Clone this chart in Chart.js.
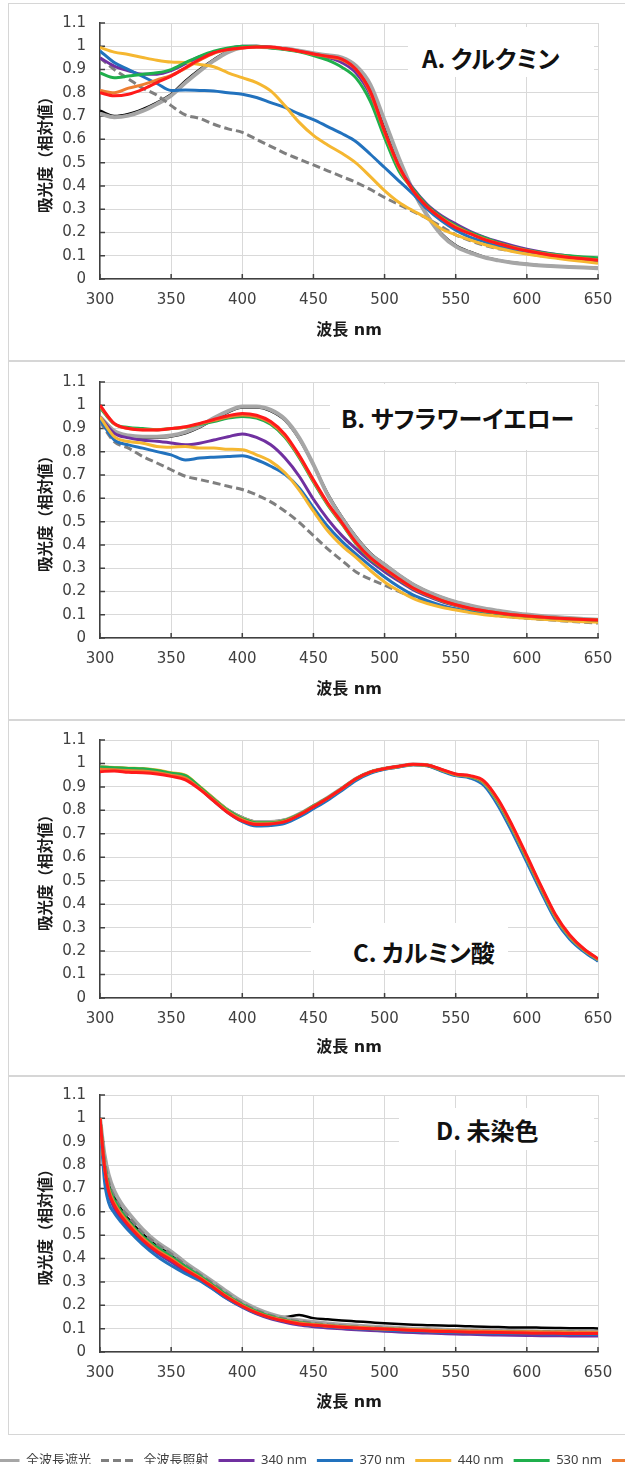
<!DOCTYPE html>
<html lang="ja">
<head>
<meta charset="utf-8">
<title>吸光スペクトル</title>
<script src="https://cdn.jsdelivr.net/npm/chart.js@4.4.1/dist/chart.umd.min.js"></script>
<style>
  html, body { margin: 0; padding: 0; background: #fff; }
  body { width: 625px; height: 1471px; position: relative; overflow: hidden; }
  .frame { position: absolute; left: 8px; width: 700px; border: 1px solid #d6d6d6; box-sizing: border-box; }
  canvas { position: absolute; left: 0; }
  .tbox { position: absolute; background: #fff; }
  .ttext { position: absolute; line-height: 30px; white-space: nowrap; color: #111;
           font-family: "Noto Sans CJK JP", sans-serif; font-weight: bold; font-size: 24px;
           font-feature-settings: "palt"; }
</style>
</head>
<body>
<div class="frame" style="top:3px;height:358px"></div>
<div class="frame" style="top:361px;height:359px"></div>
<div class="frame" style="top:720px;height:356px"></div>
<div class="frame" style="top:1076px;height:359px"></div>

<canvas id="cA" width="625" height="360" style="top:0px"></canvas>
<canvas id="cB" width="625" height="360" style="top:359px"></canvas>
<canvas id="cC" width="625" height="360" style="top:717px"></canvas>
<canvas id="cD" width="625" height="360" style="top:1072px"></canvas>
<canvas id="legend" width="1100" height="40"></canvas>

<div class="tbox" style="left:408px;top:27px;width:186px;height:50px"></div>
<div class="ttext" style="left:422px;top:43px">A. クルクミン</div>
<div class="tbox" style="left:330px;top:384px;width:265px;height:66px"></div>
<div class="ttext" style="left:341px;top:403px">B. サフラワーイエロー</div>
<div class="tbox" style="left:311px;top:923px;width:197px;height:47px"></div>
<div class="ttext" style="left:353px;top:937px">C. カルミン酸</div>
<div class="tbox" style="left:399px;top:1108px;width:195px;height:42px"></div>
<div class="ttext" style="left:436px;top:1115px">D. 未染色</div>

<script>
// wavelengths (nm)
const wavelengths = [300,310,320,330,340,350,360,370,380,390,400,410,420,430,440,450,460,470,480,490,500,510,520,530,540,550,560,570,580,590,600,610,620,630,640,650];
const wavelengthsD = [300,303,306,310,315,320,330,340,350,360,370,380,390,400,410,420,430,440,450,460,470,480,490,500,510,520,530,540,550,560,570,580,590,600,610,620,630,640,650];

const seriesNames = ['未照射', '全波長遮光', '全波長照射', '340 nm', '370 nm', '440 nm', '530 nm', '590 nm', '660 nm'];

// A. クルクミン
const aBlack  = [0.723,0.700,0.709,0.730,0.758,0.794,0.851,0.900,0.943,0.979,0.997,1.000,0.997,0.990,0.980,0.968,0.958,0.948,0.905,0.820,0.665,0.510,0.375,0.275,0.195,0.145,0.117,0.095,0.081,0.071,0.064,0.058,0.055,0.052,0.050,0.047];
const aGray   = [0.710,0.695,0.702,0.722,0.752,0.788,0.843,0.893,0.938,0.975,0.995,0.998,0.995,0.990,0.981,0.970,0.961,0.951,0.915,0.835,0.680,0.520,0.380,0.272,0.190,0.140,0.113,0.093,0.080,0.070,0.063,0.058,0.055,0.052,0.049,0.046];
const aDashed = [0.950,0.900,0.860,0.820,0.790,0.745,0.705,0.690,0.665,0.645,0.630,0.600,0.570,0.540,0.515,0.490,0.465,0.440,0.415,0.385,0.350,0.320,0.290,0.260,0.225,0.190,0.165,0.145,0.130,0.120,0.110,0.100,0.092,0.085,0.080,0.074];
const aPurple = [0.950,0.915,0.895,0.880,0.880,0.895,0.925,0.955,0.975,0.990,1.000,1.000,0.995,0.988,0.978,0.966,0.952,0.930,0.885,0.790,0.625,0.480,0.390,0.320,0.272,0.237,0.205,0.180,0.160,0.143,0.128,0.116,0.106,0.098,0.091,0.085];
const aBlue   = [0.980,0.930,0.900,0.870,0.840,0.810,0.812,0.810,0.808,0.800,0.794,0.780,0.758,0.737,0.709,0.685,0.655,0.625,0.590,0.536,0.479,0.422,0.365,0.300,0.250,0.210,0.180,0.160,0.142,0.128,0.117,0.108,0.100,0.092,0.085,0.078];
const aYellow = [0.995,0.975,0.965,0.952,0.940,0.932,0.930,0.922,0.912,0.886,0.865,0.844,0.808,0.744,0.673,0.617,0.576,0.540,0.498,0.440,0.380,0.330,0.293,0.260,0.215,0.190,0.168,0.148,0.132,0.118,0.107,0.098,0.090,0.082,0.075,0.068];
const aGreen  = [0.886,0.865,0.872,0.880,0.886,0.900,0.930,0.957,0.979,0.993,1.000,1.000,0.993,0.986,0.976,0.960,0.940,0.910,0.863,0.763,0.607,0.465,0.387,0.316,0.266,0.230,0.200,0.178,0.156,0.138,0.124,0.114,0.105,0.100,0.095,0.091];
const aOrange = [0.810,0.800,0.820,0.835,0.855,0.875,0.905,0.940,0.970,0.985,0.993,0.997,0.996,0.988,0.978,0.966,0.955,0.942,0.900,0.800,0.630,0.480,0.380,0.310,0.262,0.225,0.196,0.172,0.153,0.137,0.123,0.111,0.102,0.094,0.088,0.082];
const aRed    = [0.800,0.787,0.794,0.815,0.844,0.872,0.908,0.943,0.972,0.986,0.993,0.997,0.997,0.989,0.979,0.967,0.957,0.945,0.900,0.806,0.635,0.486,0.380,0.310,0.260,0.220,0.195,0.170,0.152,0.135,0.121,0.110,0.100,0.092,0.087,0.081];

// B. サフラワーイエロー
const bBlack  = [0.930,0.885,0.865,0.858,0.860,0.866,0.880,0.905,0.940,0.970,0.990,0.990,0.975,0.935,0.855,0.745,0.620,0.520,0.435,0.365,0.318,0.272,0.232,0.200,0.175,0.155,0.139,0.126,0.116,0.107,0.100,0.094,0.089,0.085,0.081,0.078];
const bGray   = [0.950,0.890,0.870,0.865,0.865,0.870,0.885,0.910,0.945,0.975,0.995,0.995,0.980,0.940,0.860,0.745,0.615,0.515,0.430,0.360,0.315,0.270,0.230,0.200,0.175,0.155,0.140,0.127,0.117,0.108,0.101,0.095,0.090,0.086,0.082,0.078];
const bDashed = [0.930,0.844,0.816,0.780,0.752,0.723,0.695,0.681,0.667,0.652,0.638,0.615,0.585,0.545,0.497,0.440,0.383,0.333,0.284,0.252,0.227,0.200,0.175,0.155,0.138,0.124,0.112,0.103,0.096,0.090,0.085,0.080,0.076,0.072,0.068,0.064];
const bPurple = [0.950,0.880,0.860,0.850,0.845,0.838,0.830,0.837,0.851,0.865,0.877,0.862,0.830,0.773,0.695,0.596,0.511,0.440,0.383,0.330,0.285,0.245,0.208,0.180,0.157,0.139,0.124,0.113,0.104,0.097,0.092,0.087,0.083,0.080,0.077,0.075];
const bBlue   = [0.940,0.851,0.830,0.816,0.801,0.787,0.765,0.773,0.777,0.780,0.783,0.766,0.738,0.703,0.645,0.560,0.480,0.415,0.360,0.310,0.262,0.220,0.185,0.160,0.140,0.125,0.113,0.104,0.097,0.091,0.087,0.083,0.079,0.076,0.074,0.072];
const bYellow = [0.950,0.865,0.844,0.837,0.823,0.820,0.823,0.816,0.816,0.811,0.809,0.787,0.759,0.710,0.635,0.545,0.461,0.397,0.345,0.290,0.241,0.203,0.170,0.148,0.132,0.120,0.109,0.100,0.094,0.089,0.085,0.081,0.077,0.073,0.070,0.068];
const bGreen  = [0.990,0.920,0.905,0.900,0.895,0.900,0.905,0.918,0.930,0.945,0.952,0.945,0.918,0.862,0.775,0.670,0.572,0.490,0.405,0.340,0.295,0.252,0.213,0.184,0.160,0.141,0.126,0.115,0.106,0.099,0.094,0.089,0.085,0.082,0.079,0.076];
const bOrange = [0.995,0.920,0.900,0.895,0.895,0.900,0.906,0.920,0.935,0.950,0.958,0.950,0.924,0.868,0.780,0.675,0.576,0.493,0.408,0.343,0.297,0.254,0.214,0.185,0.161,0.142,0.127,0.116,0.107,0.100,0.094,0.089,0.085,0.082,0.079,0.077];
const bRed    = [1.000,0.922,0.900,0.894,0.894,0.900,0.908,0.922,0.939,0.955,0.965,0.957,0.930,0.875,0.785,0.680,0.580,0.496,0.410,0.345,0.298,0.255,0.215,0.186,0.162,0.143,0.128,0.117,0.108,0.100,0.095,0.090,0.086,0.083,0.080,0.077];

// C. カルミン酸
const cBlack  = [0.985,0.982,0.978,0.975,0.968,0.958,0.948,0.900,0.850,0.802,0.770,0.752,0.752,0.760,0.785,0.820,0.855,0.895,0.936,0.964,0.979,0.988,0.996,0.992,0.972,0.952,0.943,0.914,0.830,0.716,0.590,0.463,0.344,0.259,0.203,0.161];
const cGray   = [0.982,0.980,0.976,0.973,0.966,0.955,0.945,0.898,0.848,0.800,0.767,0.750,0.750,0.758,0.784,0.818,0.854,0.894,0.935,0.963,0.978,0.987,0.996,0.992,0.972,0.952,0.944,0.915,0.831,0.718,0.592,0.465,0.345,0.260,0.204,0.162];
const cDashed = [0.983,0.980,0.977,0.973,0.967,0.955,0.943,0.897,0.846,0.798,0.765,0.748,0.748,0.757,0.783,0.818,0.853,0.893,0.935,0.963,0.978,0.987,0.996,0.992,0.972,0.952,0.944,0.915,0.830,0.717,0.591,0.464,0.345,0.260,0.204,0.162];
const cPurple = [0.982,0.979,0.975,0.972,0.966,0.953,0.942,0.896,0.845,0.796,0.762,0.744,0.745,0.755,0.781,0.816,0.852,0.892,0.934,0.962,0.977,0.987,0.996,0.992,0.971,0.951,0.942,0.912,0.827,0.713,0.587,0.461,0.342,0.258,0.202,0.160];
const cBlue   = [0.985,0.982,0.978,0.975,0.968,0.955,0.945,0.895,0.840,0.790,0.752,0.733,0.735,0.745,0.772,0.807,0.843,0.885,0.928,0.958,0.975,0.985,0.995,0.990,0.968,0.948,0.938,0.905,0.818,0.703,0.578,0.452,0.334,0.252,0.198,0.157];
const cYellow = [0.985,0.983,0.980,0.978,0.972,0.960,0.950,0.902,0.850,0.800,0.766,0.748,0.748,0.757,0.783,0.818,0.853,0.893,0.935,0.963,0.978,0.987,0.996,0.992,0.972,0.952,0.944,0.916,0.833,0.720,0.594,0.467,0.347,0.262,0.205,0.163];
const cGreen  = [0.984,0.982,0.979,0.977,0.970,0.958,0.948,0.900,0.848,0.799,0.765,0.747,0.747,0.757,0.783,0.818,0.853,0.893,0.935,0.963,0.978,0.987,0.996,0.992,0.972,0.953,0.945,0.918,0.836,0.723,0.597,0.470,0.350,0.264,0.207,0.165];
const cOrange = [0.975,0.973,0.970,0.968,0.962,0.950,0.938,0.893,0.843,0.794,0.760,0.743,0.744,0.754,0.781,0.816,0.852,0.892,0.935,0.963,0.978,0.987,0.996,0.993,0.973,0.953,0.946,0.920,0.840,0.727,0.601,0.473,0.352,0.266,0.208,0.165];
const cRed    = [0.965,0.968,0.962,0.960,0.955,0.945,0.930,0.890,0.840,0.790,0.755,0.740,0.742,0.752,0.780,0.815,0.852,0.892,0.935,0.963,0.978,0.988,0.997,0.993,0.975,0.955,0.948,0.925,0.845,0.733,0.607,0.478,0.357,0.270,0.210,0.167];

// D. 未染色
const dBlack  = [1.000,0.840,0.740,0.670,0.610,0.570,0.505,0.460,0.420,0.375,0.335,0.290,0.245,0.205,0.180,0.160,0.150,0.158,0.145,0.140,0.135,0.131,0.127,0.123,0.120,0.117,0.115,0.113,0.112,0.110,0.108,0.107,0.105,0.105,0.104,0.103,0.102,0.102,0.101];
const dGray   = [1.000,0.850,0.760,0.690,0.635,0.595,0.525,0.470,0.430,0.382,0.340,0.298,0.255,0.215,0.185,0.162,0.146,0.136,0.128,0.122,0.117,0.113,0.109,0.106,0.103,0.100,0.098,0.096,0.094,0.093,0.092,0.091,0.090,0.089,0.088,0.088,0.087,0.087,0.086];
const dDashed = [1.000,0.830,0.730,0.665,0.615,0.580,0.510,0.462,0.420,0.372,0.332,0.290,0.246,0.208,0.178,0.156,0.141,0.130,0.123,0.117,0.112,0.108,0.105,0.102,0.099,0.097,0.095,0.093,0.092,0.091,0.090,0.089,0.088,0.087,0.087,0.086,0.086,0.085,0.085];
const dPurple = [1.000,0.790,0.680,0.615,0.570,0.535,0.470,0.425,0.385,0.345,0.310,0.268,0.226,0.192,0.163,0.142,0.127,0.115,0.108,0.103,0.099,0.095,0.092,0.089,0.086,0.083,0.081,0.079,0.077,0.076,0.074,0.073,0.072,0.071,0.070,0.070,0.069,0.069,0.068];
const dBlue   = [1.000,0.740,0.640,0.595,0.555,0.520,0.460,0.410,0.370,0.335,0.305,0.266,0.226,0.193,0.165,0.145,0.131,0.120,0.113,0.108,0.104,0.100,0.097,0.094,0.091,0.089,0.087,0.085,0.083,0.082,0.081,0.080,0.079,0.078,0.077,0.077,0.076,0.076,0.075];
const dYellow = [1.000,0.800,0.700,0.640,0.595,0.555,0.490,0.440,0.400,0.358,0.322,0.280,0.237,0.200,0.171,0.150,0.135,0.124,0.117,0.111,0.107,0.104,0.101,0.098,0.096,0.094,0.092,0.090,0.089,0.088,0.087,0.086,0.085,0.084,0.084,0.083,0.083,0.082,0.082];
const dGreen  = [1.000,0.810,0.710,0.650,0.600,0.560,0.495,0.448,0.408,0.365,0.326,0.283,0.240,0.203,0.174,0.152,0.137,0.126,0.119,0.113,0.109,0.105,0.102,0.099,0.097,0.095,0.093,0.091,0.090,0.089,0.088,0.087,0.086,0.085,0.085,0.084,0.084,0.083,0.083];
const dOrange = [1.000,0.805,0.700,0.638,0.590,0.552,0.487,0.438,0.400,0.357,0.320,0.278,0.235,0.199,0.170,0.149,0.135,0.124,0.118,0.113,0.109,0.106,0.103,0.100,0.098,0.096,0.094,0.092,0.091,0.090,0.089,0.088,0.087,0.087,0.086,0.086,0.085,0.085,0.085];
const dRed    = [1.000,0.800,0.690,0.628,0.580,0.543,0.479,0.430,0.394,0.352,0.316,0.274,0.231,0.196,0.167,0.146,0.132,0.120,0.115,0.110,0.106,0.103,0.100,0.098,0.095,0.092,0.090,0.088,0.087,0.085,0.084,0.083,0.082,0.081,0.080,0.080,0.079,0.079,0.079];

const lineStyles = [
  { color: '#000000', width: 2.5 },
  { color: '#a6a6a6', width: 4 },
  { color: '#7f7f7f', width: 3, dash: [8, 4] },
  { color: '#7030a0', width: 3 },
  { color: '#2272be', width: 3 },
  { color: '#f5b731', width: 3 },
  { color: '#1faf4c', width: 3 },
  { color: '#ed7d31', width: 3 },
  { color: '#ff1a1a', width: 3 }
];

const tickFont = { family: '"DejaVu Sans", sans-serif', size: 15 };
const titleFont = { family: '"DejaVu Sans", "Noto Sans CJK JP", sans-serif', size: 16, weight: 'bold' };
const yTitleFont = { family: '"Noto Sans CJK JP", sans-serif', size: 15.5, weight: 'bold' };

// small tick marks pointing into the plot
const innerTicks = {
  id: 'innerTicks',
  beforeDatasetsDraw(chart) {
    const { ctx, chartArea: a, scales: { x, y } } = chart;
    ctx.save();
    ctx.strokeStyle = '#404040';
    ctx.lineWidth = 1.5;
    ctx.beginPath();
    x.ticks.forEach(t => {
      const px = x.getPixelForValue(t.value);
      ctx.moveTo(px, a.bottom);
      ctx.lineTo(px, a.bottom - 5);
    });
    y.ticks.forEach(t => {
      const py = y.getPixelForValue(t.value);
      ctx.moveTo(a.left, py);
      ctx.lineTo(a.left + 5, py);
    });
    ctx.stroke();
    ctx.restore();
  }
};

function makeDatasets(xs, ys) {
  // last series is drawn on top, so reverse for Chart.js
  return ys.map((vals, i) => ({
    label: seriesNames[i],
    data: vals.map((v, j) => ({ x: xs[j], y: v })),
    borderColor: lineStyles[i].color,
    borderWidth: lineStyles[i].width,
    borderDash: lineStyles[i].dash || [],
    pointRadius: 0,
    cubicInterpolationMode: 'monotone',
    fill: false
  })).reverse();
}

function makePanel(id, xs, ys, plotH) {
  return new Chart(document.getElementById(id), {
    type: 'line',
    data: { datasets: makeDatasets(xs, ys) },
    plugins: [innerTicks],
    options: {
      responsive: false,
      animation: false,
      events: [],
      layout: { padding: { left: 0, right: 27, top: 21, bottom: 0 } },
      plugins: { legend: { display: false }, tooltip: { enabled: false } },
      scales: {
        x: {
          type: 'linear', min: 300, max: 650,
          ticks: { stepSize: 50, padding: 12, color: '#404040', font: tickFont, maxRotation: 0, autoSkip: false },
          grid: { color: '#d9d9d9', lineWidth: 1, drawTicks: false },
          border: { color: '#404040', width: 1.5 },
          title: { display: true, text: '波長 nm', color: '#1a1a1a', font: titleFont, padding: { top: 0, bottom: 20 } },
          afterFit(s) { s.height = 360 - 21 - plotH; }
        },
        y: {
          min: 0, max: 1.1,
          ticks: { stepSize: 0.1, padding: 14, color: '#404040', font: tickFont,
                   callback: v => String(Math.round(v * 10) / 10) },
          grid: { color: '#d9d9d9', lineWidth: 1, drawTicks: false },
          border: { color: '#404040', width: 1.5 },
          title: { display: true, text: '吸光度（相対値）', color: '#1a1a1a', font: yTitleFont, padding: { top: 36, bottom: 0 } },
          afterFit(s) { s.width = 100; }
        }
      }
    }
  });
}

makePanel('cA', wavelengths, [aBlack, aGray, aDashed, aPurple, aBlue, aYellow, aGreen, aOrange, aRed], 258);
makePanel('cB', wavelengths, [bBlack, bGray, bDashed, bPurple, bBlue, bYellow, bGreen, bOrange, bRed], 258);
makePanel('cC', wavelengths, [cBlack, cGray, cDashed, cPurple, cBlue, cYellow, cGreen, cOrange, cRed], 260);
makePanel('cD', wavelengthsD, [dBlack, dGray, dDashed, dPurple, dBlue, dYellow, dGreen, dOrange, dRed], 259);

// shared legend, wider than the page and cut at both sides
const legendCanvas = document.getElementById('legend');
const legendChart = new Chart(legendCanvas, {
  type: 'line',
  data: {
    datasets: seriesNames.map((name, i) => ({
      label: name, data: [],
      borderColor: lineStyles[i].color,
      borderWidth: lineStyles[i].width === 4 ? 3 : lineStyles[i].width,
      borderDash: lineStyles[i].dash || []
    }))
  },
  options: {
    responsive: false,
    animation: false,
    events: [],
    scales: { x: { display: false }, y: { display: false } },
    plugins: {
      tooltip: { enabled: false },
      legend: {
        position: 'top', align: 'start',
        labels: {
          usePointStyle: true, pointStyleWidth: 36, padding: 10,
          color: '#404040',
          font: { family: '"Noto Sans", "Noto Sans CJK JP", sans-serif', size: 13 },
          generateLabels: chart => chart.data.datasets.map((ds, i) => ({
            text: ds.label, datasetIndex: i, hidden: false,
            strokeStyle: ds.borderColor, fillStyle: ds.borderColor,
            lineWidth: ds.borderWidth, lineDash: ds.borderDash,
            pointStyle: 'line', fontColor: '#404040'
          }))
        }
      }
    }
  }
});
const hb = legendChart.legend.legendHitBoxes[1];
legendCanvas.style.left = (-17 - hb.left) + 'px';
legendCanvas.style.top = (1460 - hb.top - hb.height / 2) + 'px';
</script>
</body>
</html>
